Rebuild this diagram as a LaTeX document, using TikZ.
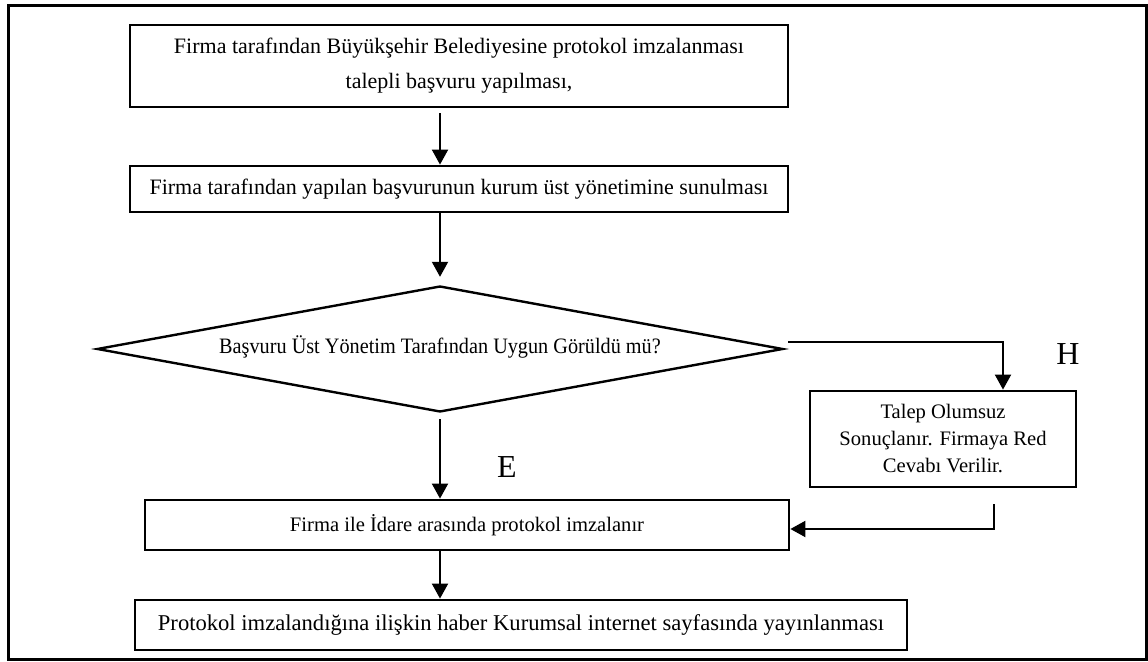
\documentclass[tikz,border=0pt]{standalone}
\usepackage{fontspec}
\setmainfont{Liberation Serif}
\usepackage{tikz}
\usetikzlibrary{arrows.meta, shapes.geometric}
\tikzset{
    box/.style={draw, line width=1.4pt, align=center, inner sep=0pt}, % 流程方框
    ask/.style={diamond, draw, line width=1.2pt, aspect=5.4, inner sep=0pt}, % 判断菱形
    arr/.style={line width=1pt, -{Triangle[width=8pt, length=7.5pt]}}, % 箭头
    small/.style={font=\fontsize{10.3}{13.5}\selectfont}, % 小字
    yesno/.style={font=\fontsize{16}{18}\selectfont} % E/H 标记
}

\begin{document}
\begin{tikzpicture}[x=0.5pt, y=-0.5pt, font=\fontsize{11}{13.5}\selectfont]
    \useasboundingbox (0,0) rectangle (1148,662);
    \draw[line width=1.5pt] (8,6) rectangle (1146,660);

    \node[box, minimum width=329pt, minimum height=41pt] (apply) at (459,66)
        {Firma tarafından Büyükşehir Belediyesine protokol imzalanması\\[4pt]talepli başvuru yapılması,};
    \node[box, minimum width=329pt, minimum height=23pt] (submit) at (459,189)
        {Firma tarafından yapılan başvurunun kurum üst yönetimine sunulması};
    \node[ask, minimum width=343pt, minimum height=63pt] (check) at (440,349)
        {\raisebox{4pt}{\scalebox{0.92}[1]{Başvuru Üst Yönetim Tarafından Uygun Görüldü mü?}}};
    \node[box, small, minimum width=133pt, minimum height=48pt] (reject) at (943,439)
        {Talep Olumsuz\\Sonuçlanır. Firmaya Red\\Cevabı Verilir.};
    \node[box, small, minimum width=322pt, minimum height=25pt] (sign) at (467,525)
        {Firma ile İdare arasında protokol imzalanır};
    \node[box, minimum width=386pt, minimum height=25pt] (publish) at (521,625)
        {\fontsize{11.3}{13.5}\selectfont Protokol imzalandığına ilişkin haber Kurumsal internet sayfasında yayınlanması};

    \node[yesno] (no) at (1068,354) {H};
    \node[yesno] (yes) at (507,467) {E};

    \draw[arr, shorten <=2.5pt] (check.north |- apply.south) -- (check.north |- submit.north);
    \draw[arr, shorten >=4pt] (check.north |- submit.south) -- (check.north);
    \draw[arr] ([yshift=3.5pt, xshift=2pt]check.east) -| ([xshift=30pt]reject.north);
    \draw[arr, shorten <=3pt] (check.south) -- (check.south |- sign.north);
    \draw[arr] ([xshift=25.5pt, yshift=-8pt]reject.south) |- ([yshift=-2pt]sign.east);
    \draw[arr] (check.south |- sign.south) -- (check.south |- publish.north);
\end{tikzpicture}
\end{document}
